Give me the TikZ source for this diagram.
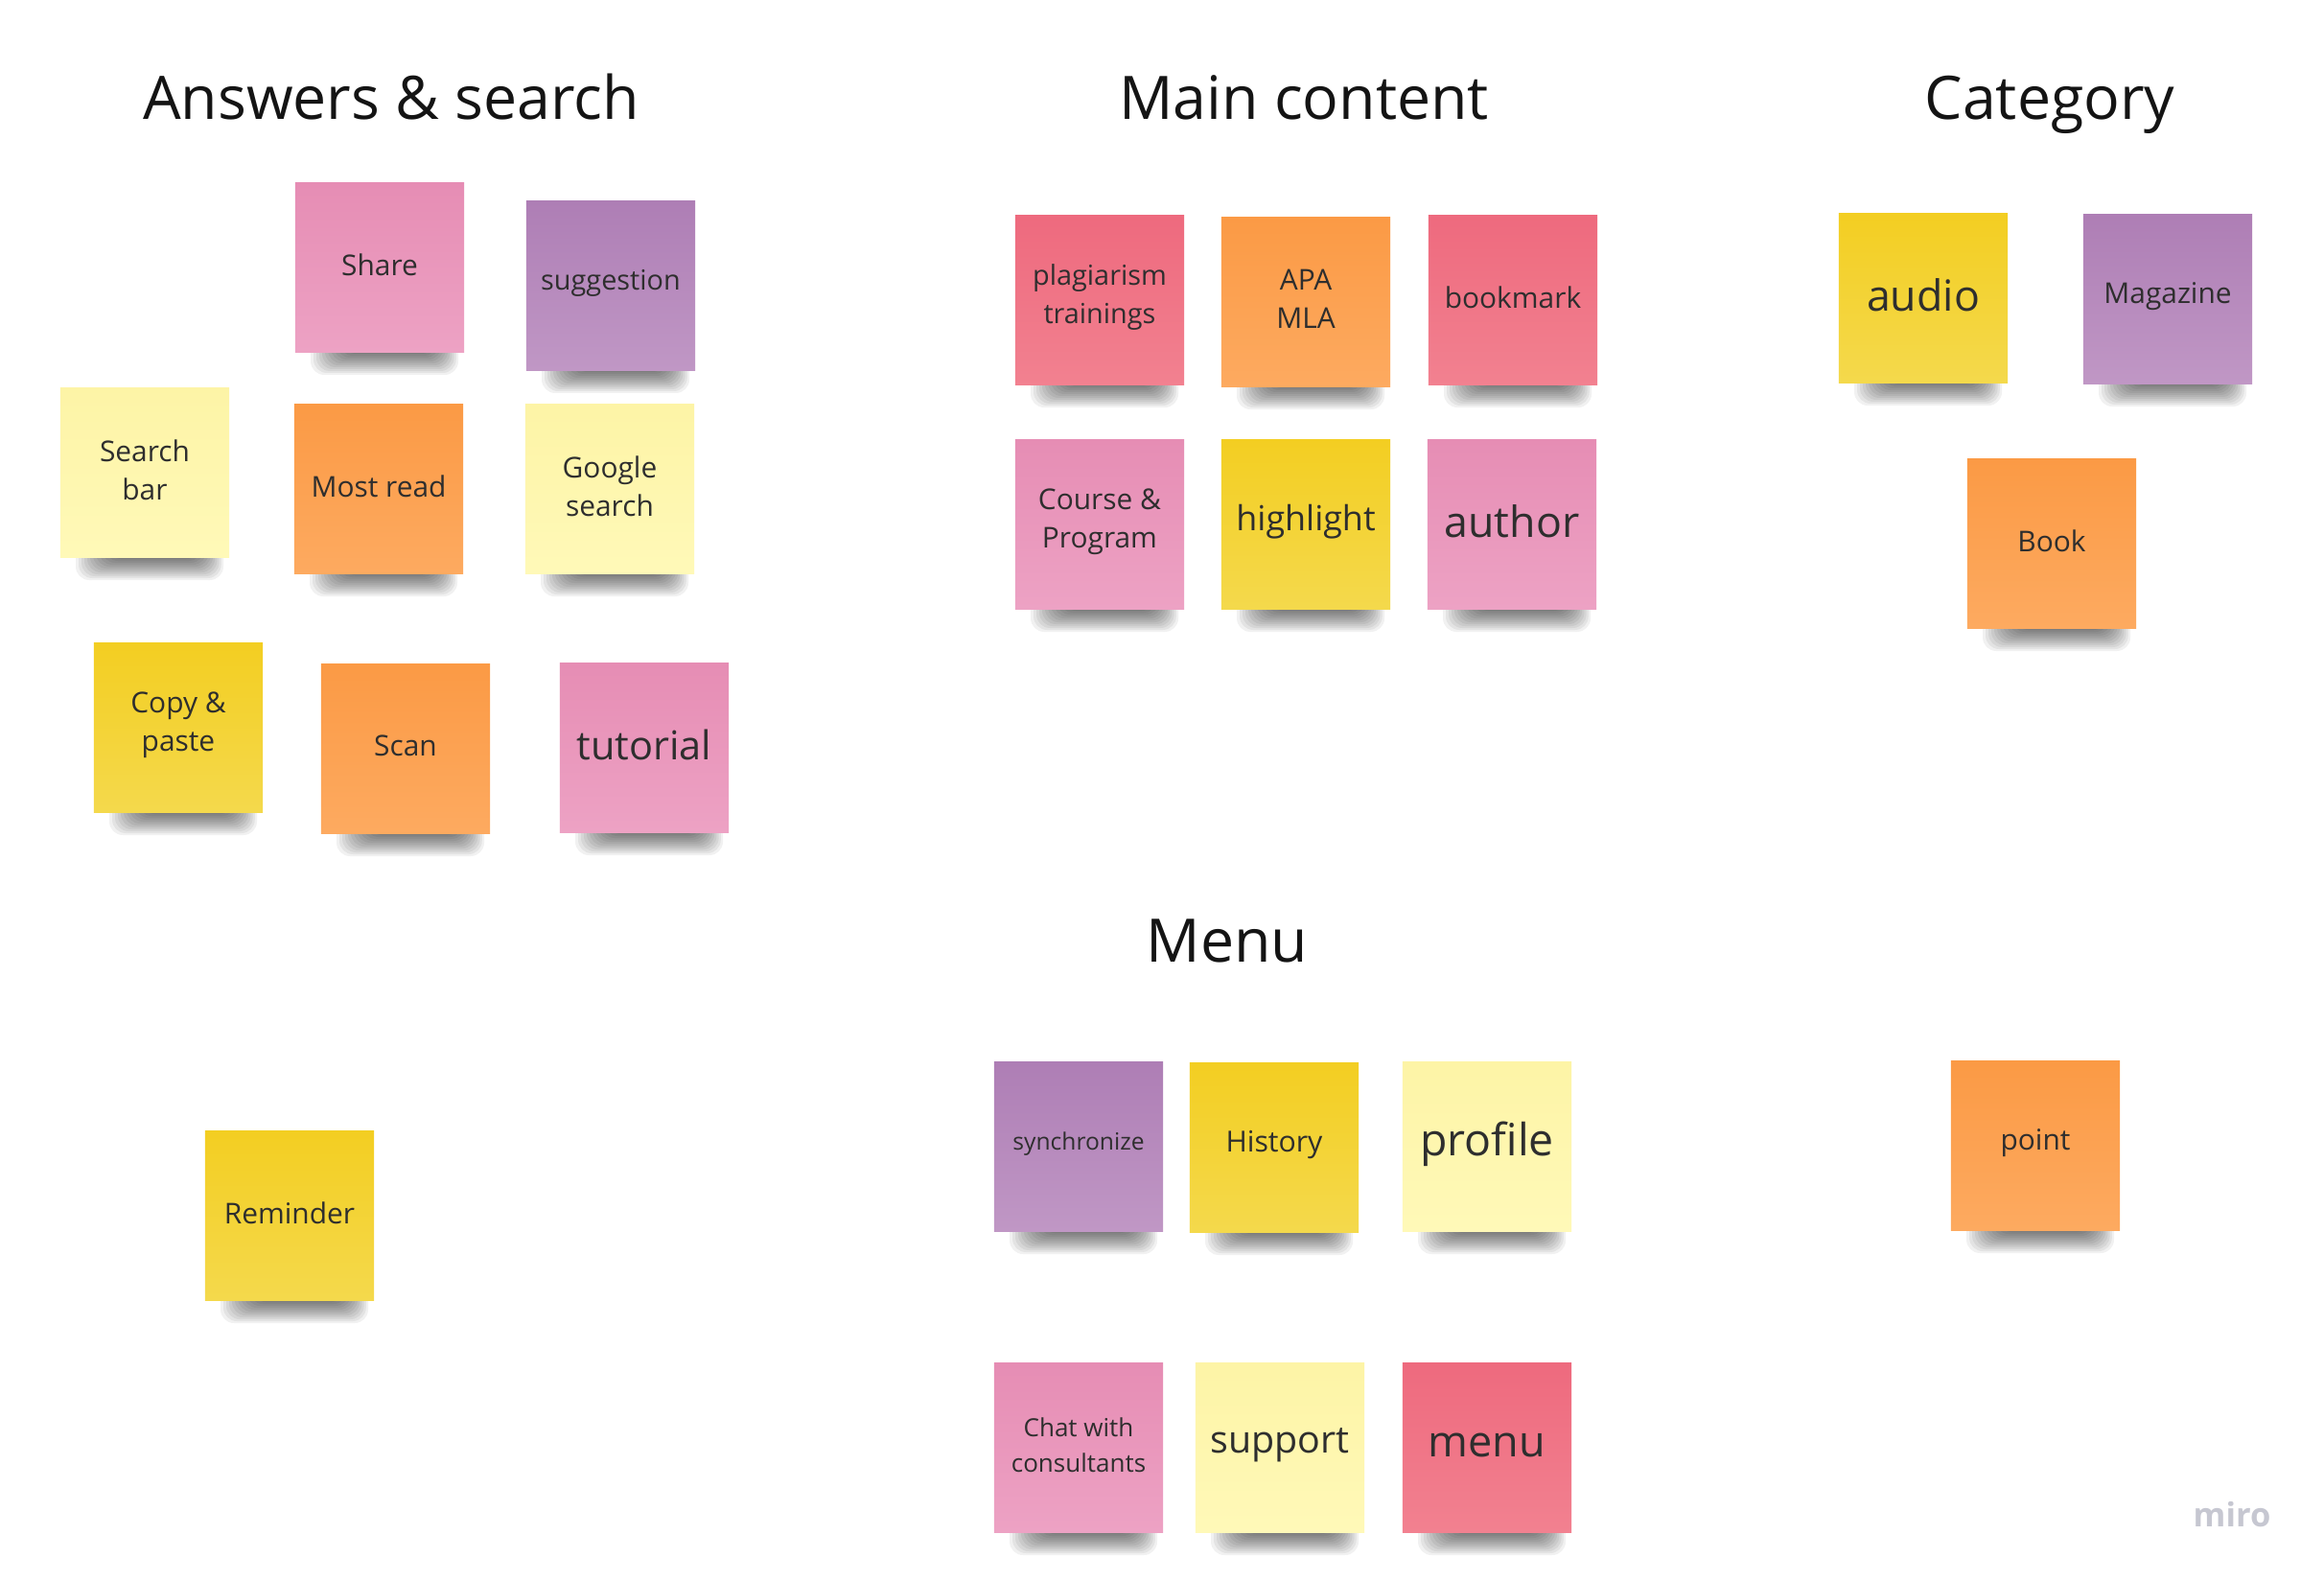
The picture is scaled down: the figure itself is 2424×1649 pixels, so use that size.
\documentclass[tikz,border=0pt]{standalone}
\usepackage{fontspec}
\setmainfont{Open Sans}
\definecolor{pkT}{HTML}{E68DB4}\definecolor{pkB}{HTML}{EDA2C4}
\definecolor{puT}{HTML}{AE7EB5}\definecolor{puB}{HTML}{C097C5}
\definecolor{lyT}{HTML}{FDF4A6}\definecolor{lyB}{HTML}{FFF9B8}
\definecolor{orT}{HTML}{FB9A45}\definecolor{orB}{HTML}{FDAA60}
\definecolor{yeT}{HTML}{F3CE22}\definecolor{yeB}{HTML}{F4D94C}
\definecolor{rdT}{HTML}{EE6A7E}\definecolor{rdB}{HTML}{F28190}
\definecolor{txt}{HTML}{2E2E2E}
\definecolor{ttl}{HTML}{141414}
\definecolor{logo}{HTML}{C6C7D1}
\tikzset{
  stk/.style={rectangle, minimum width=1.76cm, minimum height=1.76cm, inner sep=0pt, draw=none},
  pink/.style={top color=pkT, bottom color=pkB},
  purp/.style={top color=puT, bottom color=puB},
  lyel/.style={top color=lyT, bottom color=lyB},
  oran/.style={top color=orT, bottom color=orB},
  yell/.style={top color=yeT, bottom color=yeB},
  redd/.style={top color=rdT, bottom color=rdB},
  stktext/.style={align=center, text=txt, inner sep=0pt},
  title/.style={text=ttl, font=\fontsize{17.8}{21}\selectfont, inner sep=0pt, anchor=base},
  shlayer/.style={fill=black, fill opacity=0.055, rounded corners=4pt}
}
% name, x, y, colour style, font size, baselineskip, text
\newcommand{\sticky}[7]{%
  \foreach \i in {0,...,11}{%
    \fill[shlayer] ({#2-72+\i*3},{#3+66}) rectangle ({#2+82-\i*2.2},{#3+112-\i*2});
  }
  \node[stk,#4] (#1) at (#2,#3) {};
  \node[stktext,font=\fontsize{#5}{#6}\selectfont] (#1t) at ({#2},{#3-3}) {#7};
}
\begin{document}
\begin{tikzpicture}[x=0.01cm,y=-0.01cm]
\useasboundingbox (0,0) rectangle (2424,1649);
\fill[white] (0,0) rectangle (2424,1649);

% titles
\node[title] (t1) at (408,125) {Answers \& search};
\node[title] (t2) at (1360,125) {Main content};
\node[title] (t3) at (2138,125) {Category};
\node[title] (t4) at (1280,1003) {Menu};

% Answers & search
\sticky{share}{396}{279}{pink}{8.5}{11.4}{Share}
\sticky{sugg}{637}{298}{purp}{8.2}{11.4}{suggestion}
\sticky{sbar}{151}{493}{lyel}{8.5}{11.4}{Search\\bar}
\sticky{most}{395}{510}{oran}{8.5}{11.4}{Most read}
\sticky{goog}{636}{510}{lyel}{8.5}{11.4}{Google\\search}
\sticky{copy}{186}{759}{yell}{8.5}{11.4}{Copy \&\\paste}
\sticky{scan}{423}{781}{oran}{8.5}{11.4}{Scan}
\sticky{tuto}{672}{780}{pink}{11.8}{14}{tutorial}
\sticky{remi}{302}{1268}{yell}{8.5}{11.4}{Reminder}

% Main content
\sticky{plag}{1147}{313}{redd}{8.2}{11.2}{plagiarism\\trainings}
\sticky{apa}{1362}{315}{oran}{8.5}{11.4}{APA\\MLA}
\sticky{book}{1578}{313}{redd}{8.5}{11.4}{bookmark}
\sticky{cour}{1147}{547}{pink}{8.5}{11.4}{Course \&\\Program}
\sticky{high}{1362}{547}{yell}{10.2}{13}{highlight}
\sticky{auth}{1577}{547}{pink}{12.7}{15}{author}

% Category
\sticky{audi}{2006}{311}{yell}{12.7}{15}{audio}
\sticky{maga}{2261}{312}{purp}{8.5}{11.4}{Magazine}
\sticky{bk}{2140}{567}{oran}{8.5}{11.4}{Book}

% Menu
\sticky{sync}{1125}{1196}{purp}{7}{10}{synchronize}
\sticky{hist}{1329}{1197}{yell}{8.6}{11.4}{History}
\sticky{prof}{1551}{1196}{lyel}{13.2}{15.5}{profile}
\sticky{poin}{2123}{1195}{oran}{8.5}{11.4}{point}
\sticky{chat}{1125}{1510}{pink}{7.4}{10.5}{Chat with\\consultants}
\sticky{supp}{1335}{1510}{lyel}{11.2}{13.5}{support}
\sticky{menu}{1551}{1510}{redd}{12.8}{15}{menu}

% logo
\node[text=logo, font=\fontsize{9.8}{11}\selectfont\bfseries, inner sep=0pt] (logo) at (2328,1580) {miro};
\end{tikzpicture}
\end{document}
